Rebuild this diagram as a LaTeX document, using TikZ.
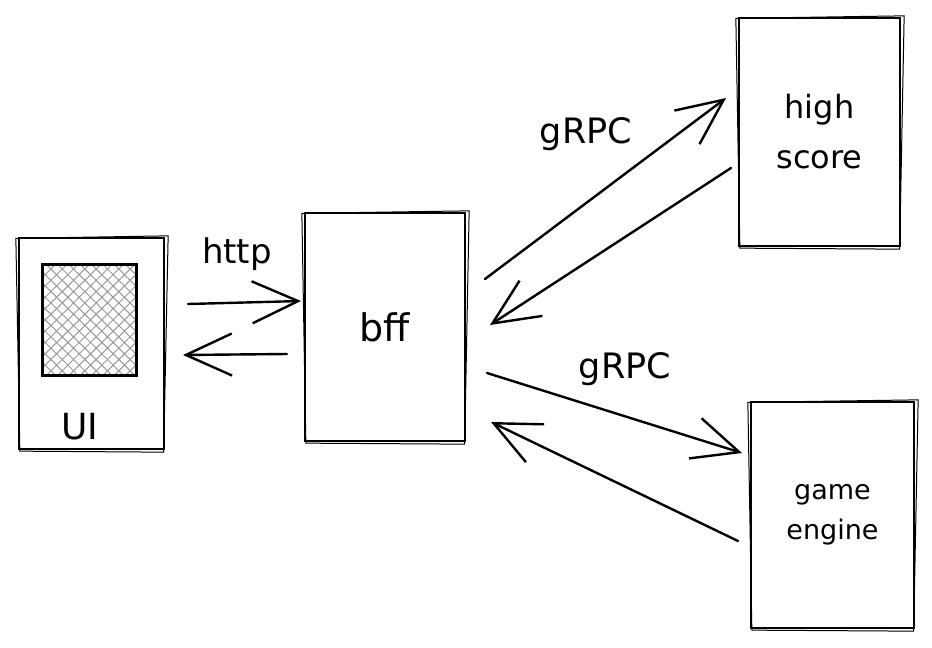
\documentclass[tikz,border=0pt]{standalone}
\usepackage{fontspec}
\setmainfont{DejaVu Sans}
\usetikzlibrary{arrows.meta,patterns.meta,calc}
\begin{document}
\begin{tikzpicture}[x=1pt,y=-1pt,
  box/.style={draw=black,line width=2.3pt,inner sep=0pt,align=center,fill=white},
  sk/.style={draw=black,line width=1pt},
  arr/.style={line width=2.4pt,line cap=round,-{Straight Barb[length=46pt,width=42pt,line width=2.4pt]}},
  lbl/.style={font=\fontsize{34}{36}\selectfont,inner sep=0pt}]
\fill[white] (0,0) rectangle (932,648);
\useasboundingbox (0,0) rectangle (932,648);
% boxes
\node[box,minimum width=145pt,minimum height=211pt] (ui) at (91.5,343.5) {};
\node[box,minimum width=160pt,minimum height=228pt,font=\fontsize{38}{40}\selectfont] (bff) at (385,327) {bff};
\node[box,minimum width=161pt,minimum height=228pt,font=\fontsize{32}{50}\selectfont] (hs) at (819.5,132) {high\\score};
\node[box,minimum width=163pt,minimum height=226pt,font=\fontsize{27}{40}\selectfont] (ge) at (832.5,515) {game\\engine};
% sketchy second strokes
\foreach \n in {ui,bff,hs,ge}{
  \draw[sk] ([shift={(-2,1.5)}]\n.north west) -- ([shift={(3,-1)}]\n.north east)
            -- ([shift={(-1.5,2)}]\n.south east) -- ([shift={(2,1)}]\n.south west) -- cycle;
}
% inner hatched screen
\node[minimum width=93pt,minimum height=110pt,inner sep=0pt,
  pattern={Lines[angle=45,distance=8pt,line width=1pt]},pattern color=gray!80] (scr) at (89.5,320) {};
\path[pattern={Lines[angle=-45,distance=8pt,line width=1pt]},pattern color=gray!80]
  (scr.north west) rectangle (scr.south east);
\draw[line width=2.4pt] (scr.north west) rectangle (scr.south east);
\node[lbl,font=\fontsize{36}{38}\selectfont] (uit) at (80,427) {UI};
% labels
\node[lbl] (http) at (237,254) {http};
\node[lbl,font=\fontsize{35}{36}\selectfont] (g1) at (586,134) {gRPC};
\node[lbl,font=\fontsize{35}{36}\selectfont] (g2) at (625,369) {gRPC};
% arrow end points
\coordinate (a1s) at (188,304); \coordinate (a1e) at (301,301);
\coordinate (a2s) at (287,354); \coordinate (a2e) at (183,355);
\coordinate (a3s) at (485,279); \coordinate (a3e) at (726,98);
\coordinate (a4s) at (731,168); \coordinate (a4e) at (490,325);
\coordinate (a5s) at (487,373); \coordinate (a5e) at (742,453);
\coordinate (a6s) at (738,541); \coordinate (a6e) at (491,422);
\draw[arr] (a1s) -- (a1e);
\draw[arr] (a2s) -- (a2e);
\draw[arr] (a3s) -- (a3e);
\draw[arr] (a4s) -- (a4e);
\draw[arr] (a5s) -- (a5e);
\draw[arr] (a6s) -- (a6e);
\end{tikzpicture}
\end{document}
